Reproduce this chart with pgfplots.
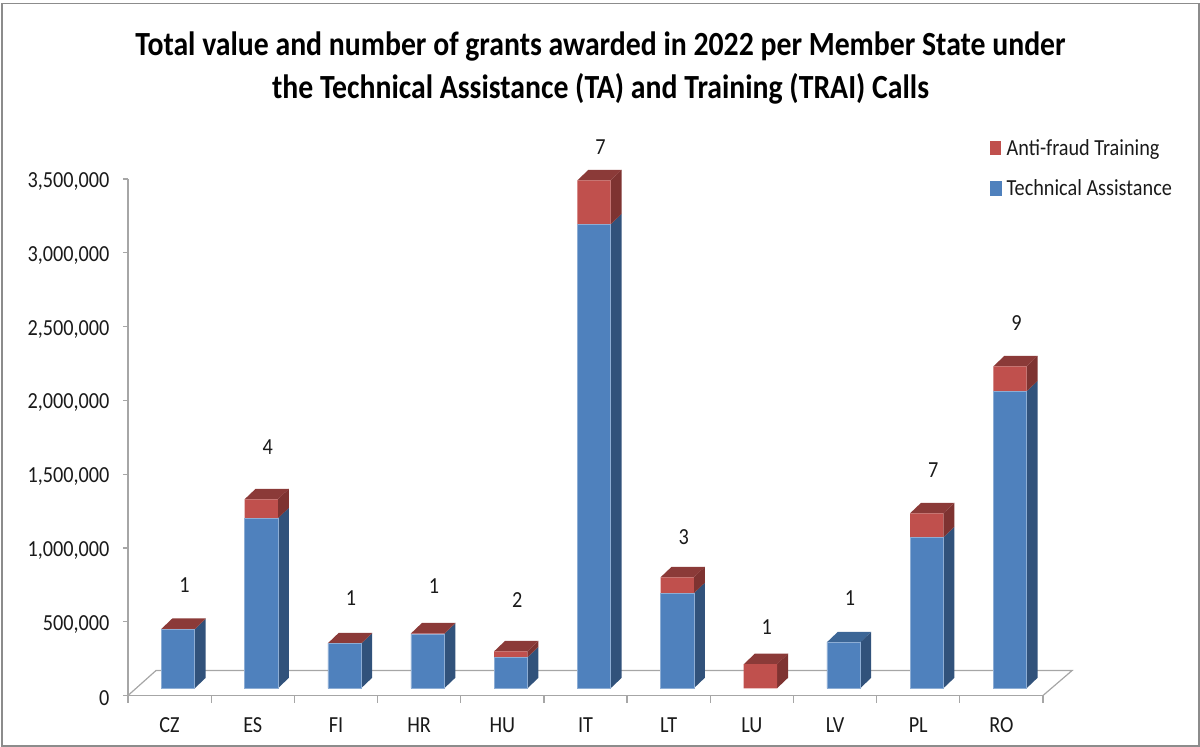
\documentclass[border=0pt]{standalone}
\usepackage{pgfplots}
\pgfplotsset{compat=1.18}
\usepackage{fontspec}
\setmainfont[FakeStretch=0.88]{Carlito}
\definecolor{tablue}{HTML}{4F81BD}
\definecolor{tablueS}{HTML}{31527B}
\definecolor{tablueT}{HTML}{3C6696}
\definecolor{afred}{HTML}{C0504D}
\definecolor{afredS}{HTML}{7E3331}
\definecolor{afredT}{HTML}{8B3A38}
\definecolor{axgray}{HTML}{A6A6A6}
\definecolor{frm}{HTML}{8C8C8C}
\definecolor{txt}{HTML}{1A1A1A}
% polygon helpers: x, low, high (in thousands), colour
\newcommand\sideface[4]{%
  \pgfmathsetmacro\xa{#1+0.2}\pgfmathsetmacro\xb{#1+0.3323}%
  \pgfmathsetmacro\ya{#2+71.15}\pgfmathsetmacro\yb{#3+71.15}%
  \edef\temp{\noexpand\addplot[fill=#4,draw=none,forget plot,xshift=8.5pt,yshift=7.2pt] coordinates {(\xa,#2)(\xb,\ya)(\xb,\yb)(\xa,#3)};}\temp}
\newcommand\topface[3]{%
  \pgfmathsetmacro\xa{#1-0.2}\pgfmathsetmacro\xb{#1+0.2}\pgfmathsetmacro\xc{#1+0.3323}\pgfmathsetmacro\xd{#1-0.0677}%
  \pgfmathsetmacro\ya{#2+71.15}%
  \edef\temp{\noexpand\addplot[fill=#3,draw=none,forget plot,xshift=8.5pt,yshift=7.2pt] coordinates {(\xa,#2)(\xb,#2)(\xc,\ya)(\xd,\ya)};}\temp}
\pgfplotstableread{
x ta af
0 400000 3000
1 1152000 129000
2 302000 3000
3 369000 3000
4 210000 41000
5 3144000 298000
6 644000 108000
7 0 163000
8 312000 0
9 1023000 163000
10 2012000 169000
}\bars
\begin{document}
\begin{tikzpicture}[x=1pt,y=1pt]
\path (0,0) rectangle (1200,747);
\draw[color=frm,line width=1.4pt] (2,1) rectangle (1199,743.5);
\node[align=center,font=\fontsize{33.8}{43}\selectfont\bfseries,text=black] at (600.5,679)
 {Total value and number of grants awarded in 2022 per Member State under\\the Technical Assistance (TA) and Training (TRAI) Calls};
% background: floor and the depth faces of the bars
\begin{axis}[at={(128pt,51.5pt)},anchor=south west,width=915pt,height=516.5pt,scale only axis,
  xmin=-0.5,xmax=10.5,ymin=0,ymax=3500,axis lines=none,clip=false]
\addplot[color=axgray,line width=1.2pt,forget plot] coordinates {(-0.5,0)(-0.163,169.4)(10.85,169.4)(10.5,0)};
\sideface{0}{0}{400}{tablueS}\sideface{0}{400}{403}{afredS}\topface{0}{403}{afredT}
\sideface{1}{0}{1152}{tablueS}\sideface{1}{1152}{1281}{afredS}\topface{1}{1281}{afredT}
\sideface{2}{0}{302}{tablueS}\sideface{2}{302}{305}{afredS}\topface{2}{305}{afredT}
\sideface{3}{0}{369}{tablueS}\sideface{3}{369}{372}{afredS}\topface{3}{372}{afredT}
\sideface{4}{0}{210}{tablueS}\sideface{4}{210}{251}{afredS}\topface{4}{251}{afredT}
\sideface{5}{0}{3144}{tablueS}\sideface{5}{3144}{3442}{afredS}\topface{5}{3442}{afredT}
\sideface{6}{0}{644}{tablueS}\sideface{6}{644}{752}{afredS}\topface{6}{752}{afredT}
\sideface{7}{0}{163}{afredS}\topface{7}{163}{afredT}
\sideface{8}{0}{312}{tablueS}\topface{8}{312}{tablueT}
\sideface{9}{0}{1023}{tablueS}\sideface{9}{1023}{1186}{afredS}\topface{9}{1186}{afredT}
\sideface{10}{0}{2012}{tablueS}\sideface{10}{2012}{2181}{afredS}\topface{10}{2181}{afredT}
\addplot[draw=none,forget plot,nodes near coords,point meta=explicit symbolic,
  every node near coord/.append style={anchor=center,font=\fontsize{23}{27}\selectfont,text=txt}]
 table[meta=n] {
x y n
0.18 749 1
1.18 1684 4
2.18 661 1
3.18 742 1
4.18 647 2
5.18 3717 7
6.18 1074 3
7.18 464 1
8.18 661 1
9.18 1529 7
10.18 2524 9
};
\end{axis}
% foreground: real axes and stacked bars
\begin{axis}[at={(128pt,51.5pt)},anchor=south west,width=915pt,height=516.5pt,scale only axis,
  ybar stacked,bar width=33.3pt,clip=false,
  xmin=-0.5,xmax=10.5,ymin=0,ymax=3500000,
  axis x line*=bottom,axis y line*=left,
  axis line style={color=axgray,line width=1.2pt,-},
  xtick={0,...,10},xticklabels={CZ,ES,FI,HR,HU,IT,LT,LU,LV,PL,RO},
  minor xtick={-0.5,0.5,...,10.5},
  ytick={0,500000,...,3500000},
  scaled y ticks=false,
  yticklabel style={/pgf/number format/fixed,/pgf/number format/1000 sep={,},/pgf/number format/assume math mode=true},
  tick align=outside,
  major tick style={color=axgray,line width=1.2pt},
  minor tick style={color=axgray,line width=1.2pt},
  major x tick style={draw=none},
  major tick length=5pt,minor tick length=7pt,
  tick label style={font=\fontsize{23}{27}\selectfont,text=txt},
  xticklabel style={yshift=-14pt},
  yticklabel style={xshift=-10pt,yshift=-2.5pt},
  reverse legend,
  legend cell align=left,
  legend style={at={(0.942,1.0814)},anchor=north west,draw=none,fill=none,
     font=\fontsize{23}{27}\selectfont,text=txt,row sep=19pt,inner sep=0pt},
  every axis plot/.append style={xshift=8.5pt,yshift=7.2pt,bar shift=0pt,line width=0.5pt},
]
\addplot[fill=tablue,draw=tablue!65!white,legend image code/.code={\fill[tablue] (0pt,-14.5pt) rectangle (11pt,-0.5pt);\path (14pt,0pt);}] table[x=x,y=ta] {\bars};
\addlegendentry{Technical Assistance}
\addplot[fill=afred,draw=none,legend image code/.code={\fill[afred] (0pt,-14.5pt) rectangle (11pt,-0.5pt);\path (14pt,0pt);}] table[x=x,y=af] {\bars};
\addlegendentry{Anti-fraud Training}
\end{axis}
\end{tikzpicture}
\end{document}
